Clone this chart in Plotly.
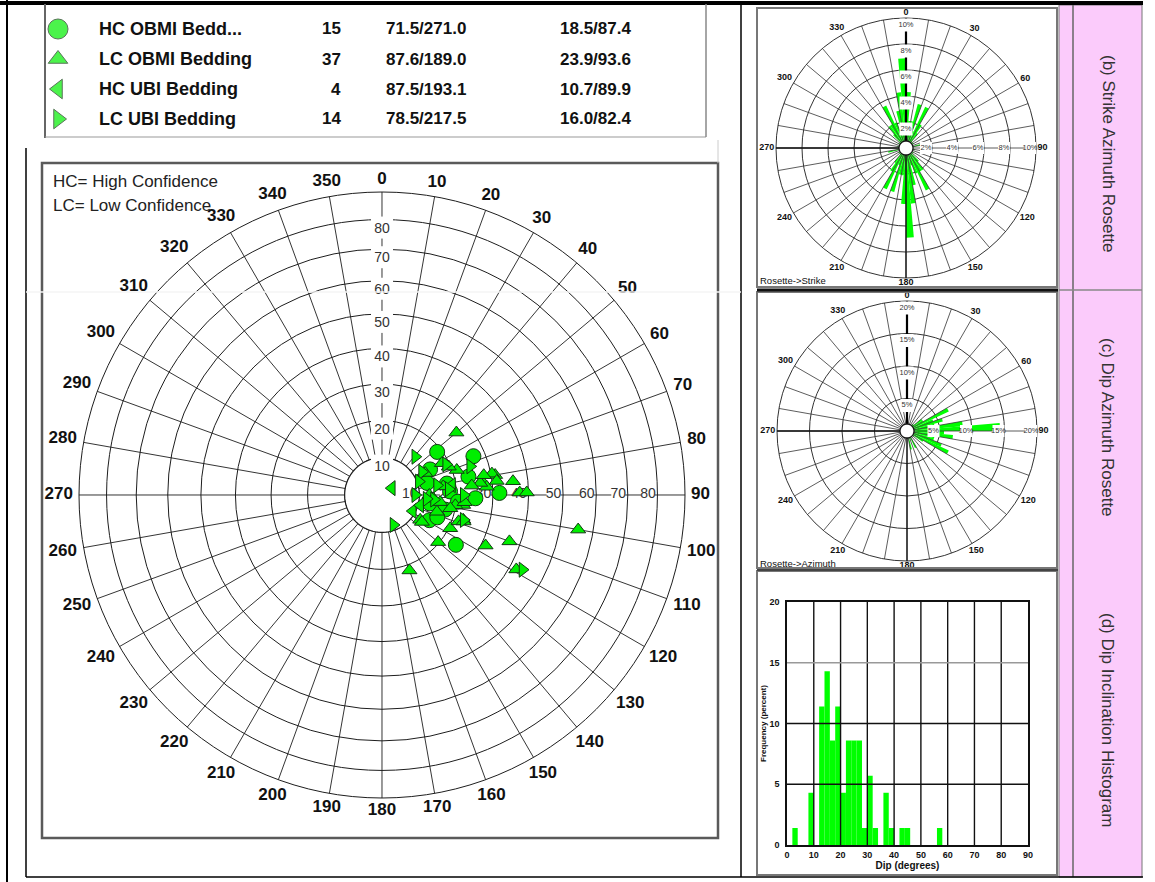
import numpy as np
import plotly.graph_objects as go

W, H = 1155, 882

SANS = "Liberation Sans, Arial, Helvetica, sans-serif"

GREEN = "#00ff00"
MARK_GREEN = "#00ee00"
MARK_EDGE = "#143814"
GRID = "#1e1e1e"

# ---------------- stereonet data (dip, dip azimuth in degrees) ----------------
hc_obmi_dip = [18.8, 26.8, 14.6, 23.8, 17.7, 18.3, 25.2, 31.8, 17.4, 14.4, 24.0, 13.0, 16.0, 12.5, 20.5]
hc_obmi_azi = [52, 67, 62, 78, 80, 87, 92, 89, 103, 118, 124, 100, 112, 75, 95]

lc_obmi_dip = [26.2, 55.4, 36.9, 31.2, 19.7, 20.4, 22.9, 42.0, 21.6, 35.8, 37.5, 39.5, 31.1, 27.2,
               12.2, 22.0, 12.7, 18.2, 28.4, 30.3, 31.3, 26.7, 21.2, 19.5, 13.0, 13.8, 15.7, 19.9,
               22.3, 21.8, 23.1, 18.7, 12.9, 15.4, 24.3, 16.6, 28.0]
lc_obmi_azi = [50, 100, 110, 116, 130, 116, 107, 119, 160, 84, 89, 89, 80, 82,
               123, 97, 90, 62, 85.5, 79, 83, 83, 71.5, 67, 63, 94, 97, 98,
               95, 109, 108, 101, 124, 107, 84, 82, 79]

hc_ubi_dip = [3.2, 9.3, 10.6, 19.0]
hc_ubi_azi = [55, 117.5, 105, 82]

lc_ubi_dip = [13.6, 8.6, 8.9, 25.0, 43.6, 19.1, 22.0, 12.4, 14.0, 23.0, 10.5, 12.0, 15.0, 18.0]
lc_ubi_azi = [41, 159, 90, 72, 118, 64.5, 90, 60, 95, 107, 70, 95, 80, 85]

# ---------------- legend table ----------------
legend_names = ["HC OBMI Bedd...", "LC OBMI Bedding", "HC UBI Bedding", "LC UBI Bedding"]
legend_counts = ["15", "37", "4", "14"]
legend_strike = ["71.5/271.0", "87.6/189.0", "87.5/193.1", "78.5/217.5"]
legend_dip = ["18.5/87.4", "23.9/93.6", "10.7/89.9", "16.0/82.4"]
legend_symbols = ["circle", "triangle-up", "triangle-left", "triangle-right"]

# ---------------- stereonet axes ----------------
azimuth_ticks = list(range(0, 360, 10))
dip_rings = [10, 20, 30, 40, 50, 60, 70, 80]

# ---------------- strike rosette (bidirectional, 5 deg bins, percent) ----------------
strike_bins = [2.5, 7.5, 12.5, 17.5, 22.5, 27.5, 32.5, 37.5, 42.5, 57.5, 77.5, 102.5,
               122.5, 137.5, 142.5, 147.5, 152.5, 157.5, 162.5, 167.5, 172.5, 177.5]
strike_pct = [4.3, 2.1, 2.1, 3.5, 1.4, 3.5, 2.1, 1.4, 0.7, 0.7, 1.4, 0.7,
              0.7, 1.4, 2.1, 2.1, 3.6, 2.1, 1.4, 2.9, 4.3, 6.9]
strike_rings = [2, 4, 6, 8, 10]
strike_labels = ["2%", "4%", "6%", "8%", "10%"]

# ---------------- dip azimuth rosette (5 deg bins, percent) ----------------
dipaz_bins = [42.5, 47.5, 52.5, 57.5, 62.5, 67.5, 72.5, 77.5, 82.5, 87.5, 92.5,
              97.5, 102.5, 107.5, 112.5, 117.5, 122.5, 127.5, 152.5, 157.5, 167.5]
dipaz_pct = [1.4, 1.4, 2.9, 2.9, 7.1, 4.3, 5.7, 4.3, 8.6, 14.3, 5.7,
             7.1, 4.3, 4.3, 5.7, 7.1, 2.9, 1.4, 2.9, 1.4, 2.9]
dipaz_rings = [5, 10, 15, 20]
dipaz_labels = ["5%", "10%", "15%", "20%"]

rosette_ticks = list(range(0, 360, 30))

# ---------------- dip histogram (2 deg bins, percent) ----------------
hist_lo = [2, 8, 12, 14, 16, 18, 20, 22, 24, 26, 28, 30, 32, 36, 38, 42, 44, 56]
hist_pct = [1.4, 4.3, 11.4, 14.3, 8.6, 11.4, 4.3, 8.6, 8.6, 8.6, 1.4, 5.7, 1.4, 4.3, 1.4, 1.4, 1.4, 1.4]
hist_bin_width = 2


# ---------------- helpers ----------------
def eq_area(d):
    """Lambert equal-area (Schmidt) radius, 90 deg -> 1."""
    return np.sqrt(2.0) * np.sin(np.radians(np.asarray(d, float)) / 2.0)


def px(x, y):
    return x / W, 1 - y / H


PAD = 1.12  # radial range beyond the outer ring, leaves room for the azimuth labels


def polar_domain(cx, cy, r):
    r = r * PAD
    return dict(x=[(cx - r) / W, (cx + r) / W], y=[1 - (cy + r) / H, 1 - (cy - r) / H])


def outer_label_r(thetas, texts, r_px, gap, char_w, h, rmax):
    out = []
    for t, s in zip(thetas, texts):
        a = np.radians(t)
        d = r_px + gap + abs(np.sin(a)) * char_w * len(s) / 2 + abs(np.cos(a)) * h / 2
        out.append(rmax * d / r_px)
    return out


def spokes(step, r0, r1):
    th, rr = [], []
    for t in range(0, 360, step):
        th += [t, t, None]
        rr += [r0, r1, None]
    return th, rr


NET_CX, NET_CY, NET_R = 382, 495, 303
S_CX, S_CY, S_R = 906, 148, 130
D_CX, D_CY, D_R = 907, 431, 130

fig = go.Figure()

# ================= stereonet =================
r10 = float(eq_area(10))
sp_t, sp_r = spokes(10, r10, 1.0)
fig.add_trace(go.Scatterpolar(r=sp_r, theta=sp_t, mode="lines", line=dict(color=GRID, width=0.9),
                              subplot="polar", hoverinfo="skip", showlegend=False))
hole_theta = np.linspace(0, 360, 181)
fig.add_trace(go.Scatterpolar(r=[r10] * len(hole_theta), theta=hole_theta, mode="lines",
                              fill="toself", fillcolor="white",
                              line=dict(color=GRID, width=1.2), subplot="polar",
                              hoverinfo="skip", showlegend=False))

ring_r = eq_area(dip_rings)
ring_txt = [str(d) for d in dip_rings]
# label boxes on the north axis (they also break the rings) and on the east axis
fig.add_trace(go.Scatterpolar(r=ring_r - 8 / NET_R, theta=[0] * len(dip_rings), mode="markers",
                              marker=dict(symbol="square", size=22, color="white", line=dict(width=0)),
                              subplot="polar", hoverinfo="skip", showlegend=False))
fig.add_trace(go.Scatterpolar(r=ring_r - 9.5 / NET_R, theta=[90] * len(dip_rings), mode="markers",
                              marker=dict(symbol="square", size=14, color="white", line=dict(width=0)),
                              subplot="polar", hoverinfo="skip", showlegend=False))
for th in (0, 90):
    fig.add_trace(go.Scatterpolar(r=ring_r - 9.5 / NET_R, theta=[th] * len(dip_rings), mode="text",
                                  text=ring_txt, textposition="middle center",
                                  textfont=dict(family=SANS, size=14, color="#333"),
                                  subplot="polar", hoverinfo="skip", showlegend=False))

series = [
    (hc_obmi_dip, hc_obmi_azi, "circle", 15),
    (lc_obmi_dip, lc_obmi_azi, "triangle-up", 13),
    (hc_ubi_dip, hc_ubi_azi, "triangle-left", 13),
    (lc_ubi_dip, lc_ubi_azi, "triangle-right", 13),
]
for name, (dips, azis, sym, size) in zip(legend_names, series):
    fig.add_trace(go.Scatterpolar(r=eq_area(dips), theta=azis, mode="markers", name=name,
                                  marker=dict(symbol=sym, size=size, color=MARK_GREEN,
                                              line=dict(color=MARK_EDGE, width=1)),
                                  subplot="polar", showlegend=False))

az_txt = [str(t) for t in azimuth_ticks]
fig.add_trace(go.Scatterpolar(r=outer_label_r(azimuth_ticks, az_txt, NET_R, 6, 9.5, 13, 1.0),
                              theta=azimuth_ticks, mode="text", text=az_txt,
                              textposition="middle center",
                              textfont=dict(family=SANS, size=17, color="#111", weight="bold"),
                              subplot="polar", hoverinfo="skip", showlegend=False))


# ================= rosettes =================
def rosette(subplot, bins, pct, mirror, rmax, rings, labels, r_px):
    sp_t, sp_r = spokes(10, 0, rmax)
    fig.add_trace(go.Scatterpolar(r=sp_r, theta=sp_t, mode="lines", line=dict(color="#333", width=0.8),
                                  subplot=subplot, hoverinfo="skip", showlegend=False))
    theta = list(bins)
    vals = list(pct)
    if mirror:
        theta = theta + [b + 180 for b in bins]
        vals = vals + list(pct)
    fig.add_trace(go.Barpolar(r=vals, theta=theta, width=5, subplot=subplot,
                              marker=dict(color=GREEN, line=dict(width=0)),
                              hoverinfo="skip", showlegend=False))
    hole = rmax * 7 / r_px
    for th, w, c in ((180, 1.3, "#111"), (270, 1.3, "#111"), (0, 2.2, "#000")):
        fig.add_trace(go.Scatterpolar(r=[hole, rmax], theta=[th, th], mode="lines",
                                      line=dict(color=c, width=w), subplot=subplot,
                                      hoverinfo="skip", showlegend=False))
    ht = np.linspace(0, 360, 91)
    fig.add_trace(go.Scatterpolar(r=[hole] * len(ht), theta=ht, mode="lines", fill="toself",
                                  fillcolor="white", line=dict(color="#111", width=1.3),
                                  subplot=subplot, hoverinfo="skip", showlegend=False))
    lv = np.array(rings, float)
    for th, off, sz in ((0, 7, 13), (90, 6, 12)):
        rr = lv - rmax * off / r_px
        fig.add_trace(go.Scatterpolar(r=rr, theta=[th] * len(lv), mode="markers+text",
                                      text=labels, textposition="middle center",
                                      textfont=dict(family=SANS, size=7.5, color="#333"),
                                      marker=dict(symbol="square", size=sz, color="white",
                                                  line=dict(width=0)),
                                      subplot=subplot, hoverinfo="skip", showlegend=False))
    rt = [str(t) for t in rosette_ticks]
    fig.add_trace(go.Scatterpolar(r=outer_label_r(rosette_ticks, rt, r_px, 1, 5.5, 8, rmax),
                                  theta=rosette_ticks, mode="text", text=rt,
                                  textposition="middle center",
                                  textfont=dict(family=SANS, size=9, color="#111", weight="bold"),
                                  subplot=subplot, hoverinfo="skip", showlegend=False))


rosette("polar2", strike_bins, strike_pct, True, 10, strike_rings, strike_labels, S_R)
rosette("polar3", dipaz_bins, dipaz_pct, False, 20, dipaz_rings, dipaz_labels, D_R)

# ================= histogram =================
fig.add_trace(go.Bar(x=hist_lo, y=hist_pct, width=hist_bin_width, offset=0,
                     marker=dict(color=GREEN, line=dict(width=0)),
                     xaxis="x", yaxis="y", hoverinfo="skip", showlegend=False))

# ================= legend symbols =================
legend_y = [29, 59, 89, 119]
fig.add_trace(go.Scatter(x=[58] * 4, y=legend_y, mode="markers", xaxis="x2", yaxis="y2",
                         marker=dict(symbol=legend_symbols, size=[20, 17, 17, 17], color=MARK_GREEN,
                                     line=dict(color=MARK_EDGE, width=1)),
                         hoverinfo="skip", showlegend=False))


def polar_layout(cx, cy, r, rmax, rings, ring_w, ring_c):
    return dict(
        domain=polar_domain(cx, cy, r),
        bgcolor="rgba(0,0,0,0)",
        angularaxis=dict(rotation=90, direction="clockwise", showticklabels=False, ticks="",
                         showgrid=False, showline=False),
        radialaxis=dict(range=[0, rmax * PAD], tickmode="array", tickvals=rings, showticklabels=False,
                        ticks="", showgrid=True, gridcolor=ring_c, gridwidth=ring_w,
                        showline=False, layer="below traces"),
    )


shapes = []


def line(x0, y0, x1, y1, color="#000", width=1.0, layer="above"):
    a0, b0 = px(x0, y0)
    a1, b1 = px(x1, y1)
    shapes.append(dict(type="line", xref="paper", yref="paper", x0=a0, y0=b0, x1=a1, y1=b1,
                       line=dict(color=color, width=width), layer=layer))


def rect(x0, y0, x1, y1, color="#000", width=1.0, fill="rgba(0,0,0,0)", layer="below"):
    a0, b0 = px(x0, y0)
    a1, b1 = px(x1, y1)
    shapes.append(dict(type="rect", xref="paper", yref="paper", x0=a0, y0=b1, x1=a1, y1=b0,
                       line=dict(color=color, width=width), fillcolor=fill, layer=layer))


# page frame
rect(1059, 5, 1142, 877, color="#777", width=1, fill="#fbcbfb")
line(1073, 5, 1073, 877, "#666", 1.5)
line(1059, 290, 1142, 290, "#888", 1.5)
rect(42, 163, 718, 838, color="#5a5a5a", width=2.5, fill="white")
rect(757, 8, 1057, 287, color="#777", width=2, layer="above")
rect(757, 292, 1057, 568, color="#777", width=2, layer="above")
rect(757, 571, 1057, 875, color="#777", width=2, layer="above")
line(0, 3, 1143, 3, "#000", 4)
line(757, 290, 1058, 290, "#111", 3)
line(757, 570, 1058, 570, "#444", 2)
line(7, 0, 7, 882, "#000", 2)
line(26, 148, 26, 877, "#000", 1.5)
line(26, 877, 1143, 877, "#000", 1.5)
line(741, 3, 741, 877, "#000", 1.5)
# legend cell
line(45, 4, 45, 138, "#666", 2)
line(45, 137, 706, 137, "#999", 1)
line(706, 4, 706, 137, "#888", 1.5)
line(718, 140, 718, 163, "#ccc", 1)
# cell seam across the stereonet panel
line(26, 292, 741, 292, "#f4f4f4", 1.5)

# histogram grid drawn over the bars
for xv in range(10, 90, 10):
    shapes.append(dict(type="line", xref="x", yref="y domain", x0=xv, x1=xv, y0=0, y1=1,
                       line=dict(color="#111", width=1.4), layer="above"))
for yv, c in ((5, "#111"), (10, "#111"), (15, "#999")):
    shapes.append(dict(type="line", xref="x domain", yref="y", x0=0, x1=1, y0=yv, y1=yv,
                       line=dict(color=c, width=1.4), layer="above"))

annotations = []


def text(x, y, s, size, family=SANS, color="#111", bold=False, xanchor="left", angle=0):
    a, b = px(x, y)
    annotations.append(dict(x=a, y=b, xref="paper", yref="paper", text=s, showarrow=False,
                            xanchor=xanchor, yanchor="middle", textangle=angle,
                            font=dict(family=family, size=size, color=color,
                                      weight="bold" if bold else "normal")))


for yy, n, c, s1, s2 in zip(legend_y, legend_names, legend_counts, legend_strike, legend_dip):
    text(97, yy, n, 18, bold=True)
    text(343, yy, c, 17, bold=True, xanchor="right")
    text(384, yy, s1, 17, bold=True)
    text(558, yy, s2, 17, bold=True)

text(51, 182, "HC= High Confidence", 17, color="#222")
text(51, 205, "LC= Low Confidence", 17, color="#222")

text(758, 281, "Rosette-&gt;Strike", 9.5, color="#111")
text(758, 563, "Rosette-&gt;Azimuth", 9.5, color="#111")

text(1108, 153, "(b) Strike Azimuth Rosette", 17, color="#333", xanchor="center", angle=90)
text(1108, 427, "(c) Dip Azimuth Rosette", 17, color="#333", xanchor="center", angle=90)
text(1108, 720, "(d) Dip Inclination Histogram", 17, color="#333", xanchor="center", angle=90)

tick_font = dict(family=SANS, size=9, color="#111", weight="bold")
fig.update_layout(
    width=W, height=H,
    margin=dict(l=0, r=0, t=0, b=0),
    paper_bgcolor="white",
    plot_bgcolor="rgba(0,0,0,0)",
    showlegend=False,
    polar=polar_layout(NET_CX, NET_CY, NET_R, 1.0, list(ring_r) + [1.0], 1.1, GRID),
    polar2=polar_layout(S_CX, S_CY, S_R, 10, strike_rings, 0.9, "#333"),
    polar3=polar_layout(D_CX, D_CY, D_R, 20, dipaz_rings, 0.9, "#333"),
    xaxis=dict(domain=[787 / W, 1028 / W], range=[0, 90], tickmode="array",
               tickvals=list(range(0, 91, 10)), showgrid=False, zeroline=False,
               showline=True, mirror=True, linecolor="#111", linewidth=1.5, ticks="",
               tickfont=tick_font, automargin=False, anchor="y",
               title=dict(text="Dip (degrees)", font=dict(family=SANS, size=10, color="#111", weight="bold"),
                          standoff=2)),
    yaxis=dict(domain=[1 - 845 / H, 1 - 602 / H], range=[0, 20], tickmode="array",
               tickvals=[0, 5, 10, 15, 20], showgrid=False, zeroline=False,
               showline=True, mirror=True, linecolor="#111", linewidth=1.5, ticks="",
               tickfont=tick_font, automargin=False, anchor="x", ticklabelstandoff=4,
               title=dict(text="Frequency (percent)", font=dict(family=SANS, size=8, color="#111", weight="bold"),
                          standoff=2)),
    xaxis2=dict(domain=[0, 1], range=[0, W], visible=False, anchor="y2"),
    yaxis2=dict(domain=[0, 1], range=[H, 0], visible=False, anchor="x2"),
    shapes=shapes,
    annotations=annotations,
)

fig.write_html("out.html", include_plotlyjs=True, config={"displayModeBar": False})
